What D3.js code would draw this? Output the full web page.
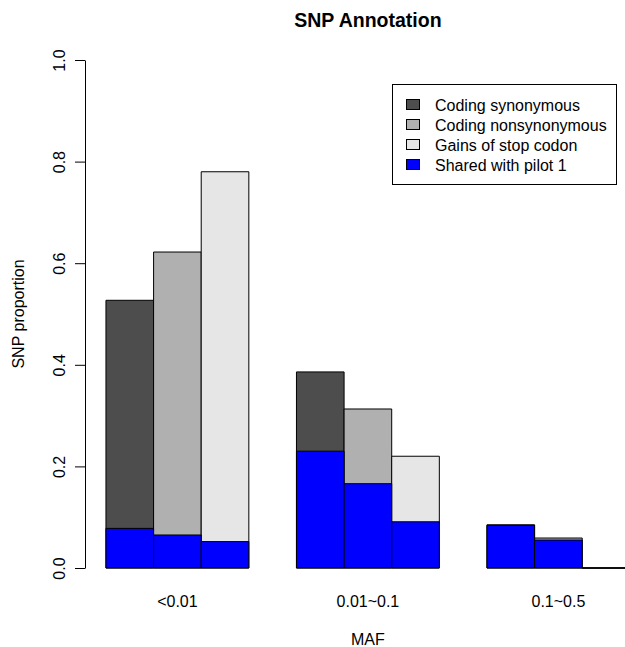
<!DOCTYPE html>
<html>
<head>
<meta charset="utf-8">
<script src="https://cdn.jsdelivr.net/npm/d3@7"></script>
<style>
  html, body { margin: 0; padding: 0; background: #fff; }
  svg { display: block; font-family: "Liberation Sans", Arial, sans-serif; }
</style>
</head>
<body>
<script>
// ---- data ----
const categories = ["<0.01", "0.01~0.1", "0.1~0.5"];
const seriesNames = ["Coding synonymous", "Coding nonsynonymous", "Gains of stop codon"];
const seriesColors = ["#4d4d4d", "#b0b0b0", "#e6e6e6"];
// total proportion per series per MAF category
const synonymous    = [0.527, 0.386, 0.085];
const nonsynonymous = [0.622, 0.313, 0.059];
const stopGain      = [0.780, 0.220, 0.000];
// shared with pilot 1 portion
const sharedSyn     = [0.078, 0.230, 0.084];
const sharedNonsyn  = [0.065, 0.166, 0.055];
const sharedStop    = [0.052, 0.091, 0.000];
const sharedName = "Shared with pilot 1";
const sharedColor = "#0000ff";
const yTicks = [0, 0.2, 0.4, 0.6, 0.8, 1.0];

const totals = [synonymous, nonsynonymous, stopGain];
const shared = [sharedSyn, sharedNonsyn, sharedStop];

// ---- layout ----
const W = 625, H = 647;
const plot = { left: 85, right: 650.8, top: 60, bottom: 568 };

const svg = d3.select("body").append("svg").attr("width", W).attr("height", H);

const nS = seriesNames.length;
// R barplot(beside=TRUE) positions: bars 1..12 with one gap per group, xlim extended 4%
const x = d3.scaleLinear().domain([0.56, 12.44]).range([plot.left, plot.right]);
const y = d3.scaleLinear().domain([0, 1]).range([plot.bottom, plot.top]);

const bars = [];
categories.forEach((c, gi) => {
  seriesNames.forEach((s, si) => {
    const left = 1 + gi * (nS + 1) + si;
    bars.push({ left, right: left + 1, total: totals[si][gi], shared: shared[si][gi], color: seriesColors[si] });
  });
});

function rectPath(x0, x1, v) {
  const p = d3.path();
  p.moveTo(x0, y(0));
  p.lineTo(x1, y(0));
  p.lineTo(x1, y(v));
  p.lineTo(x0, y(v));
  p.closePath();
  return p.toString();
}

const g = svg.append("g");
g.selectAll("path.total").data(bars).enter().append("path")
  .attr("class", "total")
  .attr("d", d => rectPath(x(d.left), x(d.right), d.total))
  .attr("fill", d => d.color)
  .attr("stroke", "#000").attr("stroke-width", 1);

g.selectAll("path.shared").data(bars).enter().append("path")
  .attr("class", "shared")
  .attr("d", d => rectPath(x(d.left), x(d.right), d.shared))
  .attr("fill", sharedColor)
  .attr("stroke", "#000").attr("stroke-width", 1);

// ---- y axis ----
const yAxis = d3.axisLeft(y).tickValues(yTicks).tickFormat(d3.format(".1f")).tickSize(10).tickSizeOuter(0);
const ya = svg.append("g").attr("transform", `translate(${plot.left},0)`).call(yAxis);
ya.attr("font-family", null).attr("font-size", null);
ya.select(".domain").attr("stroke", "#000");
ya.selectAll(".tick line").attr("stroke", "#000");
ya.selectAll(".tick text")
  .attr("font-size", 16).attr("fill", "#000")
  .attr("x", null).attr("dy", null).attr("y", null)
  .attr("transform", "translate(-20,0) rotate(-90)")
  .attr("text-anchor", "middle");

// ---- category labels ----
svg.selectAll("text.cat").data(categories).enter().append("text")
  .attr("class", "cat")
  .attr("x", (c, gi) => x(1 + gi * (nS + 1) + nS / 2))
  .attr("y", 607)
  .attr("text-anchor", "middle")
  .attr("font-size", 16)
  .text(d => d);

// ---- titles ----
svg.append("text").attr("x", (plot.left + plot.right) / 2).attr("y", 27)
  .attr("text-anchor", "middle").attr("font-size", 19.5).attr("font-weight", "bold")
  .text("SNP Annotation");
svg.append("text").attr("x", (plot.left + plot.right) / 2).attr("y", 645)
  .attr("text-anchor", "middle").attr("font-size", 16)
  .text("MAF");
svg.append("text")
  .attr("transform", `translate(24,${(plot.top + plot.bottom) / 2}) rotate(-90)`)
  .attr("text-anchor", "middle").attr("font-size", 16)
  .text("SNP proportion");

// ---- legend ----
const legendItems = seriesNames.map((n, i) => ({ name: n, color: seriesColors[i] }))
  .concat([{ name: sharedName, color: sharedColor }]);
const lg = svg.append("g");
lg.append("rect").attr("x", 392.5).attr("y", 84.5).attr("width", 224).attr("height", 100)
  .attr("fill", "#fff").attr("stroke", "#000");
const li = lg.selectAll("g.item").data(legendItems).enter().append("g")
  .attr("transform", (d, i) => `translate(0,${105 + i * 20})`);
li.append("rect").attr("x", 406.5).attr("y", -5.5).attr("width", 13).attr("height", 10)
  .attr("fill", d => d.color).attr("stroke", "#000");
li.append("text").attr("x", 435).attr("y", 5.5).attr("font-size", 16).text(d => d.name);
</script>
</body>
</html>
